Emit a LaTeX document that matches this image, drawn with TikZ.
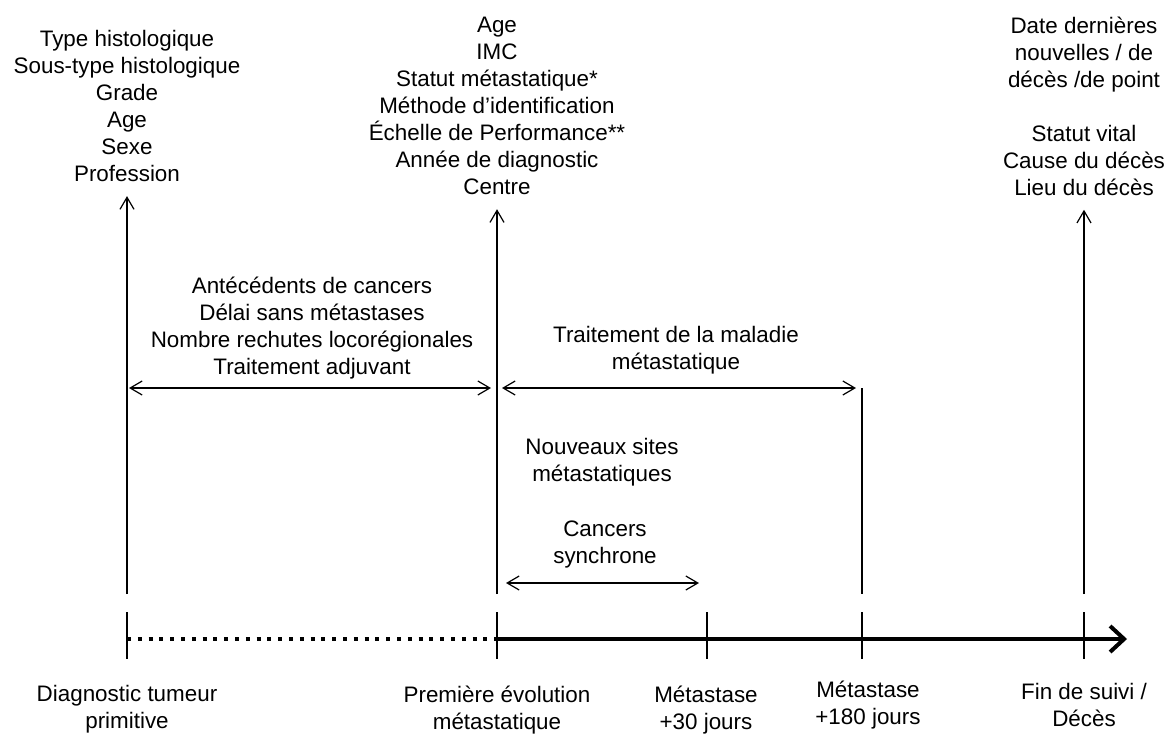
\documentclass[tikz,border=0pt]{standalone}
\usepackage{fontspec}
\setmainfont{Liberation Sans}
\usetikzlibrary{positioning,arrows.meta,calc}

\begin{document}
\begin{tikzpicture}[
x=0.5pt,y=-0.5pt,
lbl/.style={
  align=center,
  inner sep=0pt,
  font=\fontsize{11.2}{13.5}\selectfont},
thinline/.style={line width=0.6pt},
dbl/.style={
  thinline,
  {Straight Barb[length=6pt,width=7pt]}-{Straight Barb[length=6pt,width=7pt]}},
uparrow/.style={
  thinline,
  -{Straight Barb[length=6pt,width=7pt]}},
axis/.style={line width=2pt}
]
\useasboundingbox (0,0) rectangle (1173,734);
% time axis
\coordinate (T0) at (127,639);
\coordinate (T1) at (497,639);
\coordinate (T2) at (707,639);
\coordinate (T3) at (862,639);
\coordinate (T4) at (1084,639);
\coordinate (End) at (1127,639);
\draw[axis,dash pattern=on 2pt off 3.4pt] (T0) -- (T1);
\draw[axis,-{Straight Barb[length=7pt,width=13pt]}] (T1) -- (End);
\foreach \T in {T0,T1,T2,T3,T4}
  \draw[thinline] ($(\T)+(0,-27)$) -- ($(\T)+(0,20)$);
% labels under the axis
\node[lbl] (diag) at (127,709) {Diagnostic tumeur\\primitive};
\node[lbl] (prem) at (497,710) {Première évolution\\métastatique};
\node[lbl] (m30) at (706,710) {Métastase\\+30 jours};
\node[lbl] (m180) at (868,705) {Métastase\\+180 jours};
\node[lbl] (fin) at (1084,705) {Fin de suivi /\\Décès};
% data collected at each time
\node[lbl] (hist) at (127,106) {Type histologique\\Sous-type histologique\\Grade\\Age\\Sexe\\Profession};
\node[lbl] (base) at (497,106) {Age\\IMC\\Statut métastatique*\\Méthode d’identification\\Échelle de Performance**\\Année de diagnostic\\Centre};
\node[lbl] (last) at (1084,106) {Date dernières\\nouvelles / de\\décès /de point\\[13.5pt]Statut vital\\Cause du décès\\Lieu du décès};
\coordinate (U0) at (127,594);
\coordinate (U1) at (497,594);
\coordinate (U3) at (862,594);
\coordinate (U4) at (1084,594);
\draw[uparrow] (U0) -- ([yshift=-7pt]hist.south);
\draw[uparrow] (U1) -- ([yshift=-7pt]base.south);
\draw[uparrow] (U4) -- ([yshift=-7pt]last.south);
% periods
\coordinate (P0) at (129,388);
\coordinate (P1) at (491,388);
\coordinate (P2) at (502,388);
\coordinate (P3) at (856,388);
\coordinate (S3) at (862,388);
\coordinate (C0) at (506,583);
\coordinate (C1) at (699,583);
\draw[dbl] (P0) -- (P1);
\draw[dbl] (P2) -- (P3);
\draw[thinline] (S3) -- (U3);
\draw[dbl] (C0) -- (C1);
\node[lbl] (ante) at (312,328) {Antécédents de cancers\\Délai sans métastases\\Nombre rechutes locorégionales\\Traitement adjuvant};
\node[lbl] (trt) at (676,350) {Traitement de la maladie\\métastatique};
\node[lbl] (sites) at (602,462) {Nouveaux sites\\métastatiques};
\node[lbl] (sync) at (605,544) {Cancers\\synchrone};
\end{tikzpicture}
\end{document}
